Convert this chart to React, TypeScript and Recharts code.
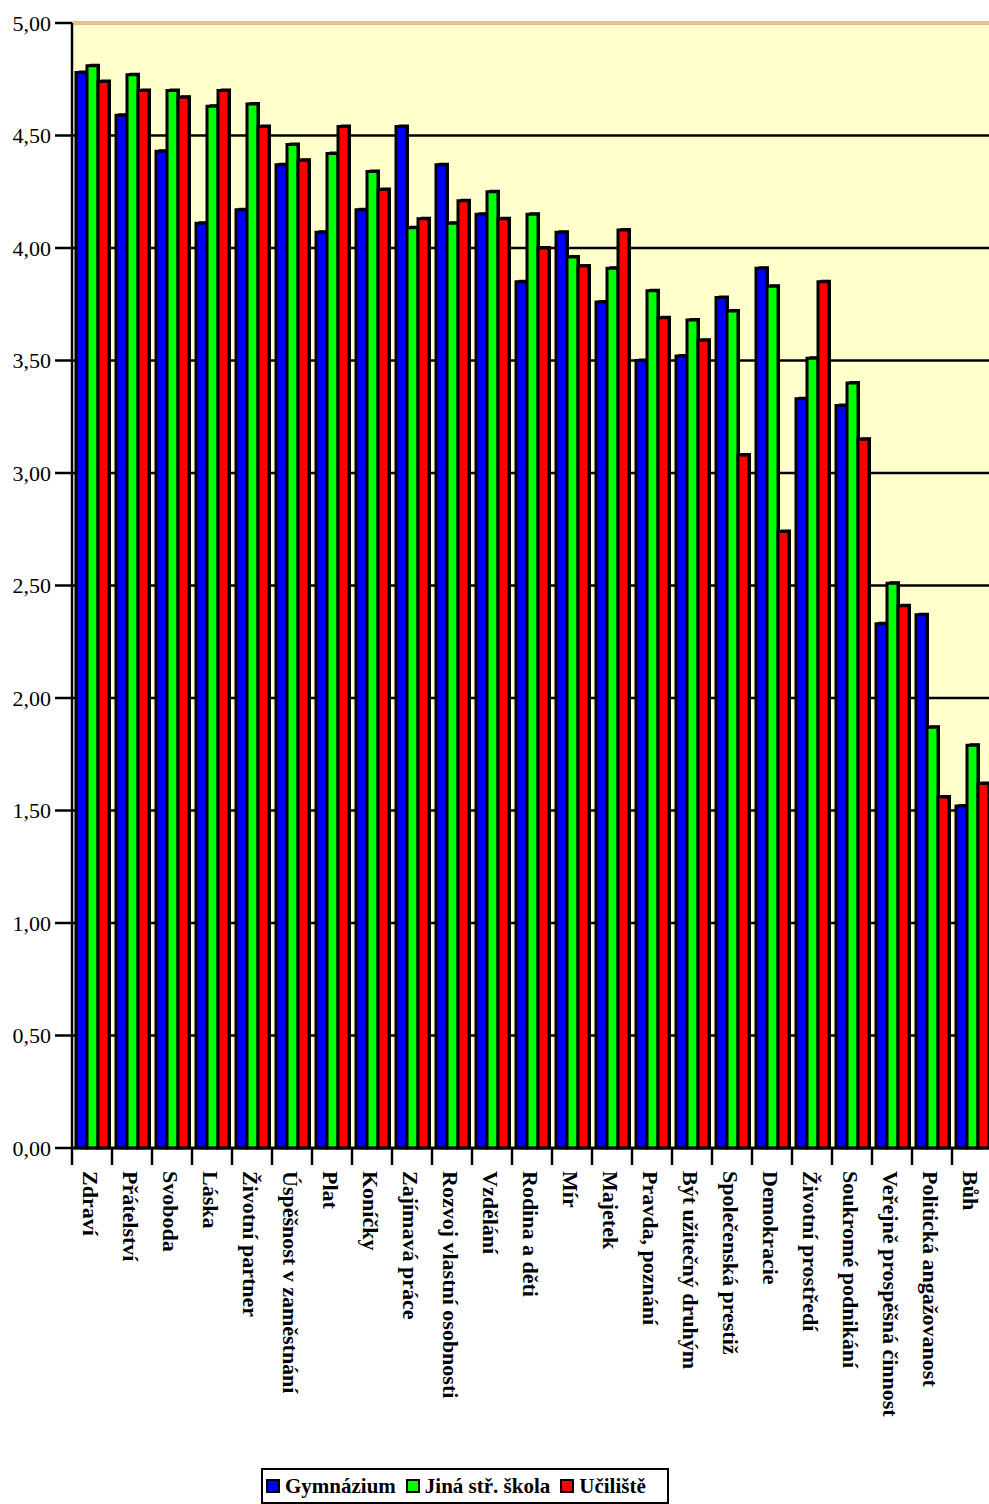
import React from "react";
import {
  BarChart,
  Bar,
  XAxis,
  YAxis,
  CartesianGrid,
  ReferenceLine,
} from "recharts";

const categories = [
  "Zdraví",
  "Přátelství",
  "Svoboda",
  "Láska",
  "Životní partner",
  "Úspěšnost v zaměstnání",
  "Plat",
  "Koníčky",
  "Zajímavá práce",
  "Rozvoj vlastní osobnosti",
  "Vzdělání",
  "Rodina a děti",
  "Mír",
  "Majetek",
  "Pravda, poznání",
  "Být užitečný druhým",
  "Společenská prestiž",
  "Demokracie",
  "Životní prostředí",
  "Soukromé podnikání",
  "Veřejně prospěšná činnost",
  "Politická angažovanost",
  "Bůh",
];

const gymnazium = [
  4.78, 4.59, 4.43, 4.11, 4.17, 4.37, 4.07, 4.17, 4.54, 4.37, 4.15, 3.85,
  4.07, 3.76, 3.5, 3.52, 3.78, 3.91, 3.33, 3.3, 2.33, 2.37, 1.52,
];
const jinaSkola = [
  4.81, 4.77, 4.7, 4.63, 4.64, 4.46, 4.42, 4.34, 4.09, 4.11, 4.25, 4.15,
  3.96, 3.91, 3.81, 3.68, 3.72, 3.83, 3.51, 3.4, 2.51, 1.87, 1.79,
];
const uciliste = [
  4.74, 4.7, 4.67, 4.7, 4.54, 4.39, 4.54, 4.26, 4.13, 4.21, 4.13, 4.0,
  3.92, 4.08, 3.69, 3.59, 3.08, 2.74, 3.85, 3.15, 2.41, 1.56, 1.62,
];

const seriesNames = ["Gymnázium", "Jiná stř. škola", "Učiliště"];
const seriesColors = ["#0000FF", "#00FF00", "#FF0000"];
const yTicks = [0, 0.5, 1, 1.5, 2, 2.5, 3, 3.5, 4, 4.5, 5];

const data = categories.map((name, i) => ({
  name,
  g: gymnazium[i],
  j: jinaSkola[i],
  u: uciliste[i],
}));

const FONT = '"Liberation Serif", "Times New Roman", serif';
const CHART_W = 1000;
const CHART_H = 1460;
const Y_AXIS_W = 72;
const RIGHT = 8;
const BAND = (CHART_W - Y_AXIS_W - RIGHT) / categories.length;

// bar with a small black 3D edge on top and right
const Bar3D = (props: any) => {
  const { x, y, width, height, fill } = props;
  if (!height || height <= 0) return null;
  const d = 2;
  const pts = [
    [x + 1, y],
    [x + 1 + d, y - d],
    [x + width + d, y - d],
    [x + width + d, y + height],
    [x + width, y + height],
    [x + width, y],
  ]
    .map((p) => p.join(","))
    .join(" ");
  return (
    <g>
      <polygon points={pts} fill="#000" />
      <rect
        x={x}
        y={y}
        width={width}
        height={height}
        fill={fill}
        stroke="#000"
        strokeWidth={3}
      />
    </g>
  );
};

const CategoryTick = (props: any) => {
  const { x, y, payload } = props;
  return (
    <g transform={`translate(${x},${y})`}>
      <line
        x1={-BAND / 2}
        x2={-BAND / 2}
        y1={0}
        y2={17}
        stroke="#000"
        strokeWidth={2.5}
      />
      <text
        transform="rotate(90)"
        x={23}
        y={9}
        textAnchor="start"
        fontFamily={FONT}
        fontWeight="bold"
        fontSize={22}
        fill="#000"
      >
        {payload.value}
      </text>
    </g>
  );
};

export default function App() {
  return (
    <div
      style={{
        position: "absolute",
        left: 0,
        top: 0,
        width: 989,
        height: 1504,
        overflow: "hidden",
        background: "#fff",
      }}
    >
      <BarChart
        width={CHART_W}
        height={CHART_H}
        data={data}
        margin={{ top: 23, right: RIGHT, left: 0, bottom: 0 }}
        barCategoryGap={4}
        barGap={0}
      >
        <CartesianGrid
          vertical={false}
          stroke="#000"
          strokeWidth={2.5}
          fill="#FFFFCC"
          fillOpacity={1}
        />
        <XAxis
          dataKey="name"
          interval={0}
          height={CHART_H - 23 - 1125}
          tickSize={0}
          tickMargin={0}
          tickLine={false}
          axisLine={{ stroke: "#000", strokeWidth: 2.5 }}
          tick={<CategoryTick />}
        />
        <YAxis
          width={Y_AXIS_W}
          domain={[0, 5]}
          ticks={yTicks}
          interval={0}
          tickSize={17}
          tickMargin={4}
          tickFormatter={(v: number) => v.toFixed(2).replace(".", ",")}
          tick={{ fill: "#000", fontSize: 22, fontFamily: FONT }}
          tickLine={{ stroke: "#000", strokeWidth: 2.5 }}
          axisLine={{ stroke: "#000", strokeWidth: 2.5 }}
        />
        <ReferenceLine y={5} stroke="#F0C088" strokeWidth={3} />
        <Bar dataKey="g" fill={seriesColors[0]} shape={<Bar3D />} isAnimationActive={false} />
        <Bar dataKey="j" fill={seriesColors[1]} shape={<Bar3D />} isAnimationActive={false} />
        <Bar dataKey="u" fill={seriesColors[2]} shape={<Bar3D />} isAnimationActive={false} />
      </BarChart>
      <div
        style={{
          position: "absolute",
          left: 261,
          top: 1468,
          width: 401,
          height: 32,
          border: "2px solid #000",
          display: "flex",
          alignItems: "center",
          fontFamily: FONT,
          fontWeight: "bold",
          fontSize: 21,
          color: "#000",
          paddingLeft: 3,
        }}
      >
        {seriesNames.map((n, i) => (
          <div
            key={n}
            style={{ display: "flex", alignItems: "center", marginRight: 10 }}
          >
            <span
              style={{
                display: "inline-block",
                width: 10,
                height: 10,
                border: "2px solid #000",
                background: seriesColors[i],
                marginRight: 5,
              }}
            />
            <span>{n}</span>
          </div>
        ))}
      </div>
    </div>
  );
}
